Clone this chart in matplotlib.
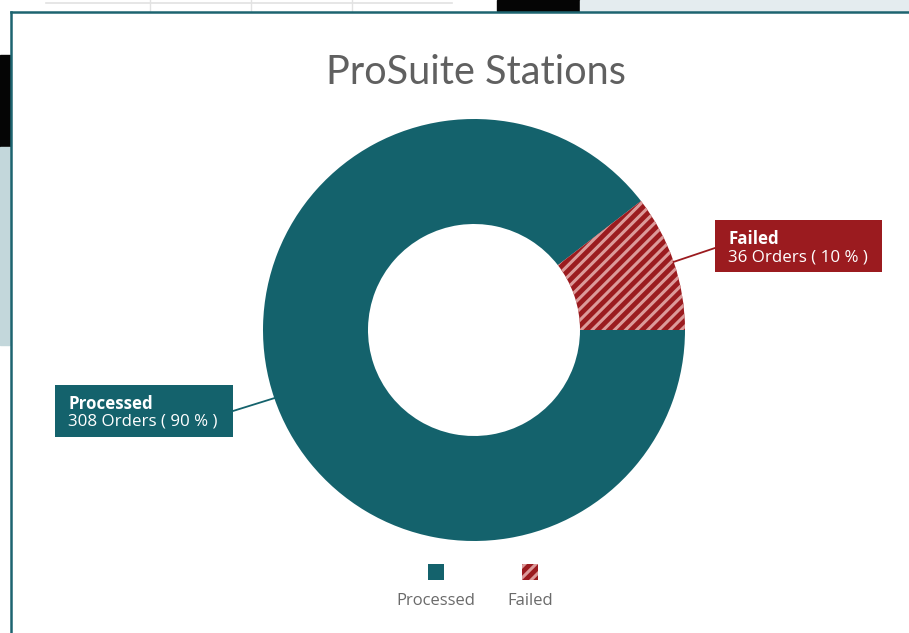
import matplotlib
matplotlib.use("Agg")
import matplotlib.pyplot as plt
from matplotlib.patches import Rectangle
import numpy as np

# ---- data ----
categories = ["Processed", "Failed"]
orders = [308, 36]
title = "ProSuite Stations"

teal = "#14626c"
red = "#9b1b1f"
colors = [teal, red]
hatches = [None, "///"]

W, H = 909, 633
plt.rcParams["hatch.linewidth"] = 2.2

fig = plt.figure(figsize=(W / 100, H / 100), dpi=100)
fig.patch.set_facecolor("white")
ax = fig.add_axes([0, 0, 1, 1])
ax.set_xlim(0, W)
ax.set_ylim(0, H)
ax.axis("off")


def Y(y):
    return H - y


# ---- surrounding screenshot bits ----
ax.add_patch(Rectangle((497, Y(11)), 83, 11, color="#050505", zorder=0))
ax.add_patch(Rectangle((580, Y(11)), 329, 11, color="#e4ecef", zorder=0))
ax.plot([46, 452], [Y(3), Y(3)], color="#e2e2e2", lw=1.2, zorder=0)
for xv in [150, 251, 352]:
    ax.plot([xv, xv], [Y(0), Y(11)], color="#e2e2e2", lw=1, zorder=0)
ax.add_patch(Rectangle((0, Y(147)), 10, 92, color="#050505", zorder=0))
ax.add_patch(Rectangle((0, Y(345)), 10, 198, color="#c3d7db", zorder=0))
ax.plot([10.5, 10.5], [0, Y(11.5)], color="#1d6470", lw=1.8, zorder=1)
ax.plot([10.5, W], [Y(11.5), Y(11.5)], color="#1d6470", lw=1.8, zorder=1)

# ---- title ----
ax.text(476, Y(72), title, ha="center", va="center", fontsize=28.5,
        family="Lato", weight="normal", color="#606060")

# ---- donut ----
cx, cy, R, w = 474, Y(330), 211, 105
start = 360.0 * orders[1] / sum(orders)
wedges, _ = ax.pie(orders, colors=colors, startangle=start, counterclock=True,
                   center=(cx, cy), radius=R,
                   wedgeprops=dict(width=w, linewidth=0))
wedges[1].set_hatch(hatches[1])
wedges[1].set_edgecolor("#dc9a9a")
wedges[1].set_linewidth(0)
ax.set_xlim(0, W)
ax.set_ylim(0, H)
ax.set_aspect("equal")

# ---- labels ----
total = sum(orders)
boxes = {
    "Processed": dict(x0=55, y0=385, w=178, h=52, anchor=(233, 411)),
    "Failed": dict(x0=715, y0=220, w=167, h=52, anchor=(715, 248)),
}
for wdg, cat, val, col in zip(wedges, categories, orders, colors):
    mid = np.deg2rad((wdg.theta1 + wdg.theta2) / 2)
    px, py = cx + R * np.cos(mid), cy + R * np.sin(mid)
    b = boxes[cat]
    ax.plot([px, b["anchor"][0]], [py, Y(b["anchor"][1])], color=col, lw=1.3, zorder=3)
    ax.add_patch(Rectangle((b["x0"], Y(b["y0"] + b["h"])), b["w"], b["h"],
                           facecolor=col, edgecolor="none", zorder=4))
    pct = round(100 * val / total)
    ax.text(b["x0"] + 13, Y(b["y0"] + 19), cat, ha="left", va="center",
            fontsize=12.2, weight="bold", family="Open Sans", color="white", zorder=5)
    ax.text(b["x0"] + 13, Y(b["y0"] + 37), f"{val} Orders ( {pct} % )", ha="left",
            va="center", fontsize=12.2, family="Open Sans", color="white", zorder=5)

# ---- legend ----
leg_x = [436, 530]
for lx, cat, col, hat in zip(leg_x, categories, colors, hatches):
    p = Rectangle((lx - 8, Y(580)), 16, 16, facecolor=col, edgecolor="none", zorder=4)
    if hat:
        p.set_hatch(hat)
        p.set_edgecolor("#dc9a9a")
        p.set_linewidth(0)
    ax.add_patch(p)
    ax.text(lx, Y(601), cat, ha="center", va="center", fontsize=12,
            family="Open Sans", color="#6a6a6a")

fig.savefig("out.png", dpi=100, facecolor="white")
